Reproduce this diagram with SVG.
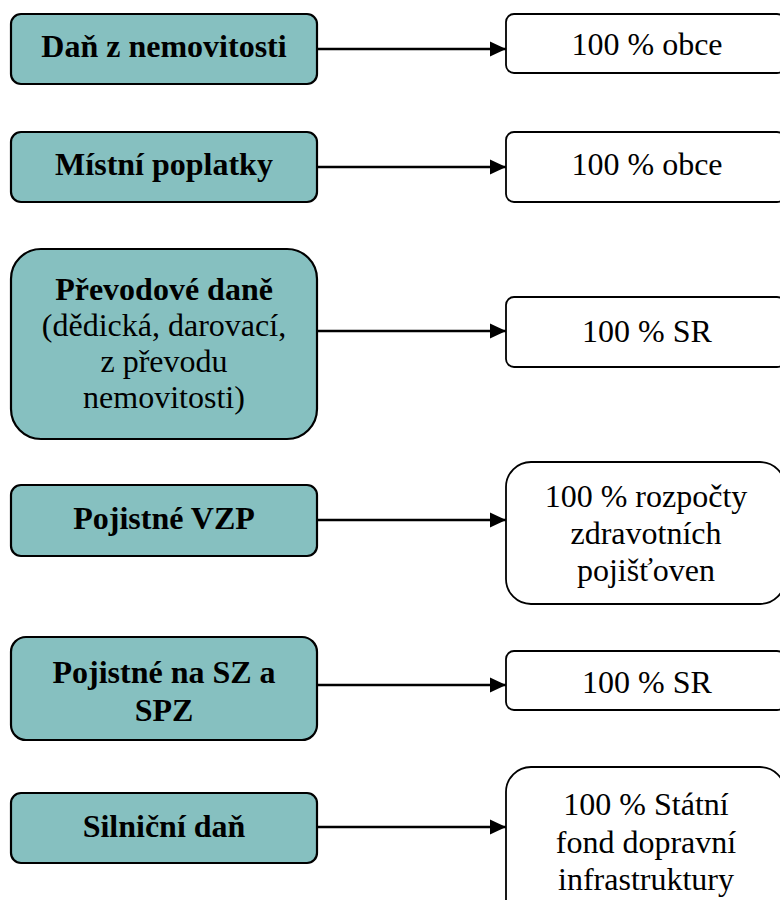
<svg xmlns="http://www.w3.org/2000/svg" width="780" height="900" viewBox="0 0 780 900">
<style>
.src{fill:#86C0C0;stroke:#000;stroke-width:2.2}
.dst{fill:#fff;stroke:#000;stroke-width:1.8}
text{font-family:'Liberation Serif','Times New Roman',serif;font-size:32px;fill:#000;text-anchor:middle}
.b{font-weight:bold}
.con{stroke:#000;stroke-width:2.5;fill:none;marker-end:url(#ah)}
</style>
<defs>
<marker id="ah" viewBox="0 0 16 16" refX="16" refY="8" markerWidth="16" markerHeight="16" markerUnits="userSpaceOnUse" orient="auto">
<path d="M0,0.5 L16,8 L0,15.5 Z" fill="#000"/>
</marker>
</defs>
<rect width="780" height="900" fill="#fff"/>
<g id="n1"><rect class="src" x="11" y="14" width="306" height="70" rx="10"/><text class="b" x="164" y="57">Daň z nemovitosti</text></g>
<g id="n2"><rect class="src" x="11" y="132" width="306" height="70" rx="10"/><text class="b" x="164" y="175">Místní poplatky</text></g>
<g id="n3"><rect class="src" x="11" y="249" width="306" height="190" rx="30"/><text class="b" x="164" y="300">Převodové daně</text><text x="164" y="336">(dědická, darovací,</text><text x="164" y="372">z převodu</text><text x="164" y="408">nemovitosti)</text></g>
<g id="n4"><rect class="src" x="11" y="485" width="306" height="71" rx="10"/><text class="b" x="164" y="529">Pojistné VZP</text></g>
<g id="n5"><rect class="src" x="11" y="637" width="306" height="103" rx="15"/><text class="b" x="164" y="683">Pojistné na SZ a</text><text class="b" x="164" y="721">SPZ</text></g>
<g id="n6"><rect class="src" x="11" y="793" width="306" height="70" rx="10"/><text class="b" x="164" y="837">Silniční daň</text></g>
<g id="r1"><rect class="dst" x="506" y="14" width="279" height="59" rx="8"/><text x="647" y="55">100 % obce</text></g>
<g id="r2"><rect class="dst" x="506" y="132" width="279" height="70" rx="8"/><text x="647" y="175">100 % obce</text></g>
<g id="r3"><rect class="dst" x="506" y="297" width="279" height="70" rx="8"/><text x="647" y="342">100 % SR</text></g>
<g id="r4"><rect class="dst" x="506" y="462" width="279" height="142" rx="25"/><text x="646" y="507">100 % rozpočty</text><text x="646" y="544">zdravotních</text><text x="646" y="581">pojišťoven</text></g>
<g id="r5"><rect class="dst" x="506" y="651" width="279" height="59" rx="8"/><text x="647" y="693">100 % SR</text></g>
<g id="r6"><rect class="dst" x="506" y="767" width="279" height="160" rx="25"/><text x="646" y="815">100 % Státní</text><text x="646" y="853">fond dopravní</text><text x="646" y="890">infrastruktury</text></g>
<g id="connectors">
<line class="con" x1="318" y1="49" x2="506" y2="49"/>
<line class="con" x1="318" y1="167" x2="506" y2="167"/>
<line class="con" x1="318" y1="331" x2="506" y2="331"/>
<line class="con" x1="318" y1="520" x2="506" y2="520"/>
<line class="con" x1="318" y1="685" x2="506" y2="685"/>
<line class="con" x1="318" y1="827" x2="506" y2="827"/>
</g>
</svg>
